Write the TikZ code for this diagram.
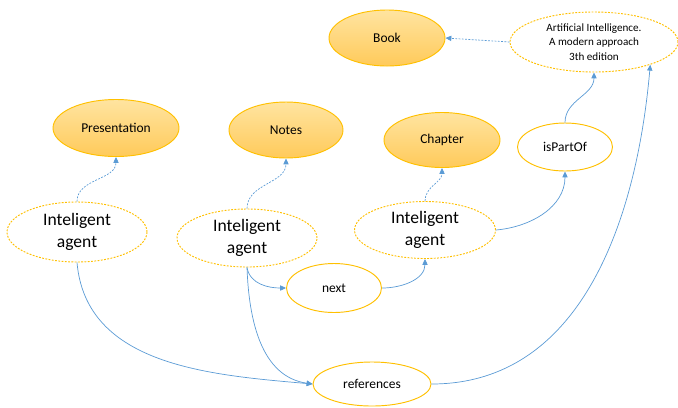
\documentclass[tikz,border=0pt]{standalone}
\usepackage{fontspec}
\setmainfont{Carlito}
\usetikzlibrary{shapes.geometric,arrows.meta}
\definecolor{edgeblue}{RGB}{91,155,213}
\definecolor{ringorange}{RGB}{255,192,0}
\definecolor{filltop}{RGB}{255,228,160}
\definecolor{fillbot}{RGB}{255,202,90}
\begin{document}
\begin{tikzpicture}[
    x=0.03cm, y=-0.03cm,
    every node/.style={font=\fontsize{11.5}{13}\selectfont},
    classbox/.style={ellipse, draw=ringorange, thick, top color=filltop, bottom color=fillbot, inner sep=0pt, align=center},
    instbox/.style={ellipse, draw=ringorange, thick, dash pattern=on 1.6pt off 1.2pt, fill=white, inner sep=0pt, align=center},
    relbox/.style={ellipse, draw=ringorange, thick, fill=white, inner sep=0pt, align=center},
    typearrow/.style={-{Triangle[length=5pt,width=4.5pt]}, edgeblue, semithick, dash pattern=on 1.6pt off 1.2pt},
    linkarrow/.style={-{Triangle[length=5pt,width=4.5pt]}, edgeblue, semithick},
]
\useasboundingbox (0,0) rectangle (678,407);

% Classes (filled)
\node[classbox, minimum width=3.48cm, minimum height=1.68cm] (book) at (387,38) {Book};
\node[classbox, minimum width=3.78cm, minimum height=1.71cm] (pres) at (116,128) {Presentation};
\node[classbox, minimum width=3.42cm, minimum height=1.68cm] (notes) at (286,130) {Notes};
\node[classbox, minimum width=3.48cm, minimum height=1.65cm] (chap) at (442,140) {Chapter};

% Instances (dashed)
\node[instbox, minimum width=5.04cm, minimum height=1.8cm, font=\fontsize{9.5}{12.5}\selectfont] (aibook) at (594,42) {Artificial Intelligence.\\A modern approach\\3th edition};
\node[instbox, minimum width=4.2cm, minimum height=1.8cm, font=\fontsize{15}{19}\selectfont] (ia1) at (77,232) {Inteligent\\agent};
\node[instbox, minimum width=4.2cm, minimum height=1.74cm, font=\fontsize{15}{19}\selectfont] (ia2) at (247,238) {Inteligent\\agent};
\node[instbox, minimum width=4.23cm, minimum height=1.71cm, font=\fontsize{15}{19}\selectfont] (ia3) at (425,230) {Inteligent\\agent};

% Relations
\node[relbox, minimum width=2.85cm, minimum height=1.44cm] (ispart) at (565,147) {isPartOf};
\node[relbox, minimum width=2.85cm, minimum height=1.47cm] (next) at (334,288) {next};
\node[relbox, minimum width=3.54cm, minimum height=1.32cm] (refs) at (372,384) {references};

% type links
\draw[typearrow] (ia1.north) to[out=90, in=-90] (pres.south);
\draw[typearrow] (ia2.north) to[out=90, in=-90] (notes.south);
\draw[typearrow] (ia3.north) to[out=90, in=-90] (chap.south);
\draw[typearrow] (aibook.west) -- (book.east);

% relation links
\draw[linkarrow] (ia3.east) to[out=5, in=-90] (ispart.south);
\draw[linkarrow] (ispart.north) to[out=90, in=-90] (aibook.south);
\draw[linkarrow] (ia2.south) to[out=-80, in=180] (next.west);
\draw[linkarrow] (next.east) to[out=0, in=-90] (ia3.south);
\draw[linkarrow] (ia2.south) to[out=-88, in=172] (refs.west);
\draw[linkarrow] (ia1.south) to[out=-85, in=175] (refs.west);
\draw[linkarrow] (refs.east) to[out=0, in=-95] (aibook.-22);
\end{tikzpicture}
\end{document}
